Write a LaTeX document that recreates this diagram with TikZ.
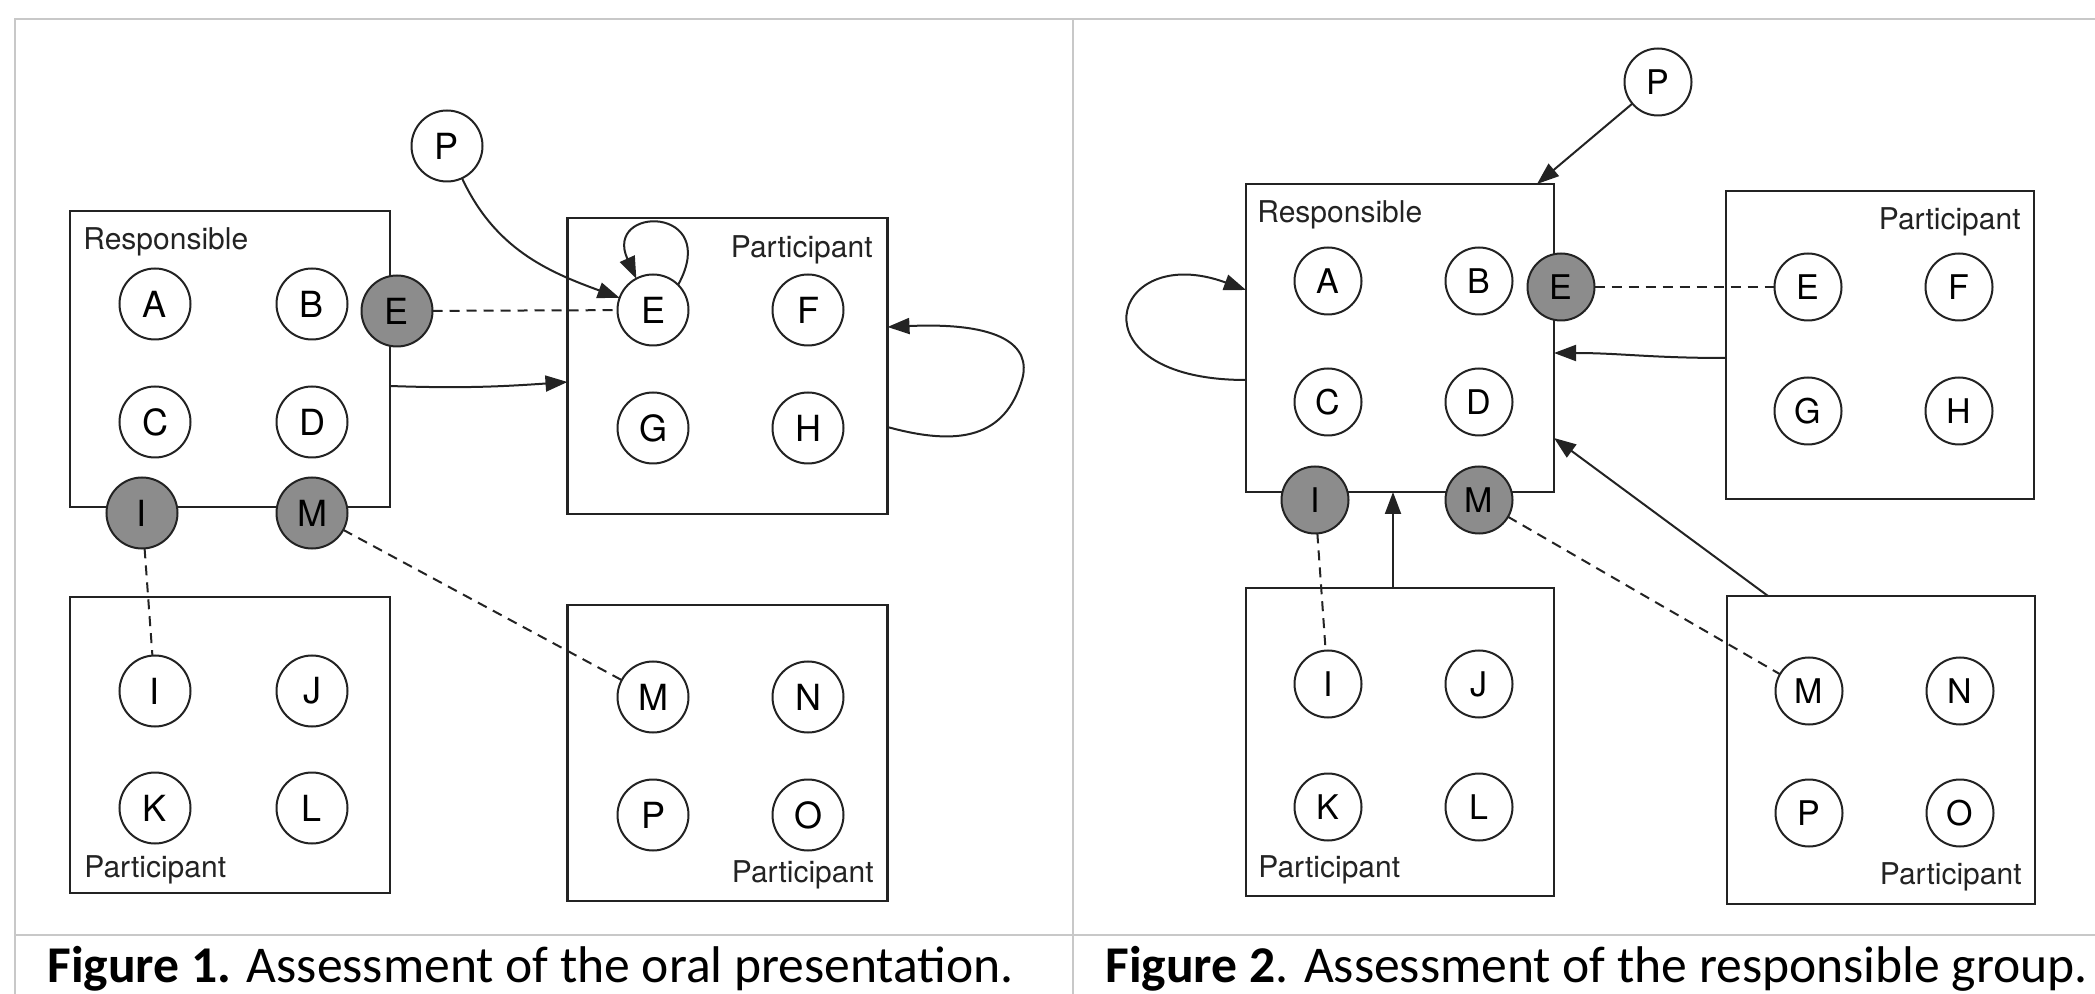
\documentclass[tikz,border=0pt]{standalone}
\usepackage{fontspec}
\setmainfont{TeX Gyre Heros}
\newfontfamily\capfont{Carlito}
\usetikzlibrary{arrows.meta,calc}
\definecolor{framegrey}{RGB}{200,200,200}
\definecolor{nodegrey}{RGB}{140,140,140}
\definecolor{ink}{RGB}{35,35,35}
\begin{document}
\begin{tikzpicture}[x=0.5pt,y=-0.5pt,
  box/.style={draw=ink,line width=1.3pt,minimum width=160pt,minimum height=148pt,inner sep=0pt,outer sep=0pt},
  sqbox/.style={box,minimum width=154pt,minimum height=154pt},
  circ/.style={circle,draw=ink,fill=white,line width=1pt,inner sep=0pt,outer sep=0pt,minimum size=35.5pt,font=\fontsize{18}{18}\selectfont},
  circb/.style={circ,minimum size=33.5pt,font=\fontsize{17}{17}\selectfont},
  shaded/.style={fill=nodegrey},
  lbl/.style={inner sep=0pt,font=\fontsize{15}{15}\selectfont,text=ink},
  dline/.style={draw=ink,line width=1pt,dash pattern=on 5pt off 3.5pt},
  arr/.style={draw=ink,line width=1pt,-{Triangle[length=11pt,width=8pt]}},
  frameline/.style={draw=framegrey,line width=1.2pt},
  captext/.style={inner sep=0pt,anchor=base west,font=\capfont\fontsize{25.8}{30}\selectfont}
]
\useasboundingbox (0,0) rectangle (2095,994);
% frame
\draw[frameline] (15,994) -- (15,19) -- (2095,19);
\draw[frameline] (1073,19) -- (1073,994);
\draw[frameline] (15,935) -- (2095,935);

% ---------- Figure 1 ----------
\node[box] (Rbox1) at (230,359) {};
\node[box] (Tbox1) at (727.5,366) {};
\node[box] (Lbox1) at (230,745) {};
\node[box] (Qbox1) at (727.5,753) {};
\node[lbl,anchor=base west] (R1l) at (83,250) {Responsible};
\node[lbl,anchor=base east] (T1l) at (873,258) {Participant};
\node[lbl,anchor=base west] (L1l) at (84,877) {Participant};
\node[lbl,anchor=base east] (Q1l) at (874,882) {Participant};

\node[circ] (a1) at (155,304) {A};
\node[circ] (b1) at (312,304) {B};
\node[circ] (c1) at (155,422) {C};
\node[circ] (d1) at (312,422) {D};
\node[circ,shaded] (eg1) at (397,311) {E};
\node[circ,shaded] (ig1) at (142,513) {I};
\node[circ,shaded] (mg1) at (312,513) {M};
\node[circ] (pp1) at (447,146) {P};
\node[circ] (e1) at (653,310) {E};
\node[circ] (f1) at (808,310) {F};
\node[circ] (g1) at (653,428) {G};
\node[circ] (h1) at (808,428) {H};
\node[circ] (i1) at (155,691) {I};
\node[circ] (j1) at (312,691) {J};
\node[circ] (k1) at (155,808) {K};
\node[circ] (l1) at (312,808) {L};
\node[circ] (m1) at (653,697) {M};
\node[circ] (n1) at (808,697) {N};
\node[circ] (p1) at (653,815) {P};
\node[circ] (o1) at (808,815) {O};

\draw[arr] (pp1) to[out=-65,in=160] (e1);
\draw[arr] (e1.45) .. controls (722,205) and (603,205) .. (e1.118);
\draw[dline] (eg1) -- (e1);
\draw[arr] (Rbox1.east |- 0,386) to[out=-2,in=184] (Tbox1.west |- 0,382);
\draw[arr] (Tbox1.east |- 0,427) .. controls (960,447) and (1005,437) .. (1022,380) .. controls (1032,345) and (1000,322) .. (Tbox1.east |- 0,327);
\draw[dline] (ig1) -- (i1);
\draw[dline] (mg1) -- (m1);

% ---------- Figure 2 ----------
\node[sqbox] (Rbox2) at (1400,338) {};
\node[sqbox] (Tbox2) at (1880,345) {};
\node[sqbox] (Lbox2) at (1400,742) {};
\node[sqbox] (Qbox2) at (1881,750) {};
\node[lbl,anchor=base west] (R2l) at (1257,223) {Responsible};
\node[lbl,anchor=base east] (T2l) at (2021,230) {Participant};
\node[lbl,anchor=base west] (L2l) at (1258,877) {Participant};
\node[lbl,anchor=base east] (Q2l) at (2022,884) {Participant};

\node[circb] (a2) at (1328,281) {A};
\node[circb] (b2) at (1479,281) {B};
\node[circb] (c2) at (1328,402) {C};
\node[circb] (d2) at (1479,402) {D};
\node[circb,shaded] (eg2) at (1561,287) {E};
\node[circb,shaded] (ig2) at (1315,500) {I};
\node[circb,shaded] (mg2) at (1479,500) {M};
\node[circb] (pp2) at (1658,82) {P};
\node[circb] (e2) at (1808,287) {E};
\node[circb] (f2) at (1959,287) {F};
\node[circb] (g2) at (1808,411) {G};
\node[circb] (h2) at (1959,411) {H};
\node[circb] (i2) at (1328,684) {I};
\node[circb] (j2) at (1479,684) {J};
\node[circb] (k2) at (1328,807) {K};
\node[circb] (l2) at (1479,807) {L};
\node[circb] (m2) at (1809,691) {M};
\node[circb] (n2) at (1960,691) {N};
\node[circb] (p2) at (1809,813) {P};
\node[circb] (o2) at (1960,813) {O};

\draw[arr] (pp2) -- ($(Rbox2.north east)+(-17,0)$);
\draw[arr] (Rbox2.west |- 0,380) .. controls (1070,380) and (1110,240) .. (Rbox2.west |- 0,290);
\draw[arr] (Tbox2.west |- 0,358) .. controls (1650,358) and (1620,353) .. (Rbox2.east |- 0,353);
\draw[arr] (Qbox2.north -| 1768,0) -- (Rbox2.east |- 0,438);
\draw[arr] (Lbox2.north -| 1393,0) -- (Rbox2.south -| 1393,0);
\draw[dline] (eg2) -- (e2);
\draw[dline] (ig2) -- (i2);
\draw[dline] (mg2) -- (m2);

% captions
\node[captext] (cap1) at (47,982) {\textbf{Figure 1.} Assessment of the oral presentation.};
\node[captext] (cap2) at (1105,982) {\textbf{Figure 2}. Assessment of the responsible group.};
\end{tikzpicture}
\end{document}
